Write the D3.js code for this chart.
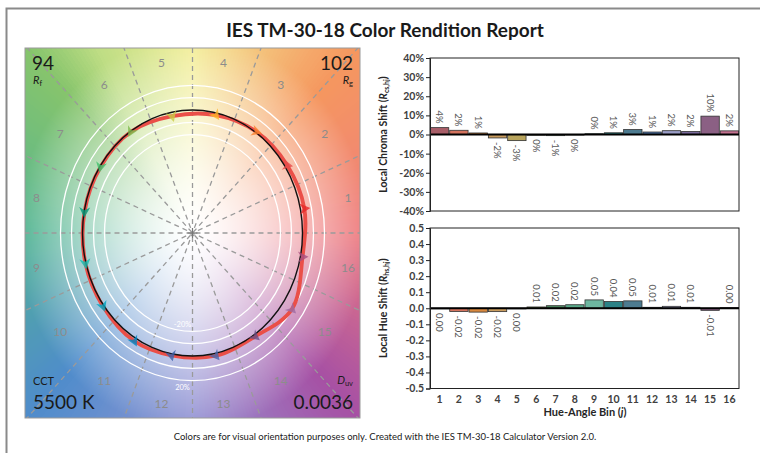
<!DOCTYPE html>
<html>
<head>
<meta charset="utf-8">
<script src="https://cdn.jsdelivr.net/npm/d3@7"></script>
<style>
  body { margin: 0; background: #fff; }
  svg { display: block; font-family: Lato, "Open Sans", sans-serif; }
</style>
</head>
<body>
<script>
//#### DATA ####
var bins = [1, 2, 3, 4, 5, 6, 7, 8, 9, 10, 11, 12, 13, 14, 15, 16];
// local chroma shift (%) per hue-angle bin
var chromaShift = [3.6, 2.2, 0.8, -1.8, -3.2, -0.4, -0.6, -0.3, 0.4, 0.9, 2.6, 1.3, 2.0, 1.6, 9.6, 1.9];
// local hue shift per hue-angle bin
var hueShift = [-0.004, -0.020, -0.024, -0.021, -0.004, 0.008, 0.016, 0.022, 0.052, 0.042, 0.046, 0.006, 0.012, 0.006, -0.013, 0.004];

var chromaTicks = [-40, -30, -20, -10, 0, 10, 20, 30, 40];
var hueTicks = [-0.5, -0.4, -0.3, -0.2, -0.1, 0, 0.1, 0.2, 0.3, 0.4, 0.5];
var ringLevels = [0.8, 0.9, 1.1, 1.2];
var spokeAngles = [0, 22.5, 45, 67.5, 90, 112.5, 135, 157.5];

var rfValue = "94", rgValue = "102", cctValue = "5500 K", duvValue = "0.0036";

// arrow colours (bin colours) and the washed-out bar colours
var binColors = ["#e62828", "#e74b4b", "#fb812e", "#ffb529", "#cbca46", "#7eb94c", "#41c06d", "#009c7c",
                 "#16bcb0", "#00a4bf", "#0085c3", "#3b62aa", "#4568ae", "#6a4e85", "#9d69a1", "#a74f81"];
var barColors = ["#a85e68", "#d4735e", "#d9893f", "#c99c5e", "#b8a45c", "#8fa95c", "#4e8a62", "#5aa98a",
                 "#6db7a0", "#2b8286", "#4d7b90", "#4a70a4", "#9a9dc6", "#7a6b9c", "#8b6084", "#c2718f"];
// background hue wheel stops (angle in degrees, colour)
var wheelAngles = [0, 45, 90, 120, 135, 180, 225, 270, 315, 360];
var wheelColors = ["#ee7c80", "#f5975f", "#f3ee98", "#bedd84", "#86c46c", "#52b493", "#4f8ccb", "#9494d4", "#a650a4", "#ee7c80"];

//#### LAYOUT ####
var W = 760, H = 453;
var px0 = 25, py0 = 48, pw = 335, ph = 370;
var cx = px0 + pw / 2, cy = py0 + ph / 2;
var rx = 110, ry = 123;

var svg = d3.select("body").append("svg")
  .attr("width", W)
  .attr("height", H);

// outer frame
svg.append("path")
  .attr("d", "M6.5," + H + " L6.5,8.5 L" + W + ",8.5")
  .attr("fill", "none")
  .attr("stroke", "#8a8a8a")
  .attr("stroke-width", 2);

svg.append("text")
  .attr("x", 385).attr("y", 37)
  .attr("text-anchor", "middle")
  .attr("font-size", 19).attr("font-weight", "bold")
  .attr("fill", "#1a1a1a")
  .text("IES TM-30-18 Color Rendition Report");

//#### COLOR VECTOR GRAPHIC ####
var xN = d3.scaleLinear().domain([-1, 1]).range([cx - rx, cx + rx]);
var yN = d3.scaleLinear().domain([-1, 1]).range([cy + ry, cy - ry]);

var hueScale = d3.scaleLinear().domain(wheelAngles).range(wheelColors).interpolate(d3.interpolateRgb);
var hueLut = d3.range(361).map(function(a) { return d3.rgb(hueScale(a)); });

var canvas = document.createElement("canvas");
canvas.width = pw; canvas.height = ph;
var ctx = canvas.getContext("2d");
var img = ctx.createImageData(pw, ph);
for (var py = 0; py < ph; py++) {
  for (var px = 0; px < pw; px++) {
    var nx = xN.invert(px0 + px + 0.5), ny = yN.invert(py0 + py + 0.5);
    var ang = (Math.atan2(ny, nx) * 180 / Math.PI + 360) % 360;
    var r = Math.sqrt(nx * nx + ny * ny);
    var t = Math.pow(Math.min(1, r / 1.6), 1.45);
    var c = hueLut[Math.round(ang)];
    var k = (py * pw + px) * 4;
    img.data[k] = 255 + (c.r - 255) * t;
    img.data[k + 1] = 255 + (c.g - 255) * t;
    img.data[k + 2] = 255 + (c.b - 255) * t;
    img.data[k + 3] = 255;
  }
}
ctx.putImageData(img, 0, 0);

svg.append("clipPath").attr("id", "panelClip")
  .append("rect").attr("x", px0).attr("y", py0).attr("width", pw).attr("height", ph);

svg.append("image")
  .attr("x", px0).attr("y", py0)
  .attr("width", pw).attr("height", ph)
  .attr("href", canvas.toDataURL());

var panel = svg.append("g").attr("clip-path", "url(#panelClip)");

// dashed spokes
panel.selectAll(".spoke")
  .data(spokeAngles)
  .enter().append("line")
  .attr("class", "spoke")
  .attr("x1", function(d) { return xN(-3 * Math.cos(d * Math.PI / 180)); })
  .attr("y1", function(d) { return yN(-3 * Math.sin(d * Math.PI / 180)); })
  .attr("x2", function(d) { return xN(3 * Math.cos(d * Math.PI / 180)); })
  .attr("y2", function(d) { return yN(3 * Math.sin(d * Math.PI / 180)); })
  .attr("stroke", "#9a9a9a")
  .attr("stroke-width", 1.3)
  .attr("stroke-dasharray", "5,4");

// centre cross
panel.append("path")
  .attr("d", "M" + (cx - 5) + "," + cy + "H" + (cx + 5) + "M" + cx + "," + (cy - 5) + "V" + (cy + 5))
  .attr("stroke", "#777").attr("stroke-width", 1);

// white rings
panel.selectAll(".ring")
  .data(ringLevels)
  .enter().append("ellipse")
  .attr("class", "ring")
  .attr("cx", cx).attr("cy", cy)
  .attr("rx", function(d) { return xN(d) - cx; })
  .attr("ry", function(d) { return cy - yN(d); })
  .attr("fill", "none")
  .attr("stroke", "#fff")
  .attr("stroke-width", 1.3);

panel.append("text")
  .attr("x", cx - 10).attr("y", yN(-0.8) - 4)
  .attr("text-anchor", "middle").attr("font-size", 7.5).attr("fill", "#fff")
  .text("-20%");
panel.append("text")
  .attr("x", cx - 10).attr("y", yN(-1.2) + 9)
  .attr("text-anchor", "middle").attr("font-size", 7.5).attr("fill", "#fff")
  .text("20%");

// hue bin numbers
panel.selectAll(".binLabel")
  .data(bins)
  .enter().append("text")
  .attr("class", "binLabel")
  .attr("x", function(d) {
    var a = (d - 0.5) * 22.5 * Math.PI / 180;
    return Math.max(px0 + 9, Math.min(px0 + pw - 12, cx + 159 * Math.cos(a)));
  })
  .attr("y", function(d) {
    var a = (d - 0.5) * 22.5 * Math.PI / 180;
    return Math.max(py0 + 15, Math.min(py0 + ph - 14, cy - 178 * Math.sin(a))) + 4;
  })
  .attr("text-anchor", "middle")
  .attr("font-size", 12)
  .attr("fill", "#8c8c8c")
  .text(function(d) { return d; });

// reference and test vertices
var vectors = bins.map(function(b, i) {
  var a = (b - 0.5) * 22.5 * Math.PI / 180;
  var at = a + hueShift[i];
  var rt = 1 + chromaShift[i] / 100;
  return {
    bin: b,
    rx: Math.cos(a), ry: Math.sin(a),
    tx: rt * Math.cos(at), ty: rt * Math.sin(at)
  };
});

var testLine = d3.line()
  .x(function(d) { return xN(d.tx); })
  .y(function(d) { return yN(d.ty); })
  .curve(d3.curveCatmullRomClosed.alpha(0.5));

panel.append("path")
  .datum(vectors)
  .attr("d", testLine)
  .attr("fill", "none")
  .attr("stroke", "#ea4f48")
  .attr("stroke-width", 3.8)
  .attr("stroke-linejoin", "round");

panel.append("ellipse")
  .attr("cx", cx).attr("cy", cy)
  .attr("rx", xN(1) - cx).attr("ry", cy - yN(1))
  .attr("fill", "none")
  .attr("stroke", "#111")
  .attr("stroke-width", 1.4);

// arrow heads at the test vertices
panel.selectAll(".arrow")
  .data(vectors)
  .enter().append("path")
  .attr("class", "arrow")
  .attr("d", "M6,0 L-4.5,-5.5 L-1.5,0 L-4.5,5.5 Z")
  .attr("transform", function(d) {
    var dx = xN(d.tx) - xN(d.rx), dy = yN(d.ty) - yN(d.ry);
    var rot = Math.atan2(dy, dx) * 180 / Math.PI;
    return "translate(" + xN(d.tx) + "," + yN(d.ty) + ") rotate(" + rot + ")";
  })
  .attr("fill", function(d, i) { return binColors[i]; })
  .attr("opacity", 0.8);

svg.append("rect")
  .attr("x", px0).attr("y", py0).attr("width", pw).attr("height", ph)
  .attr("fill", "none").attr("stroke", "#9a9a9a").attr("stroke-width", 1);

// corner metrics
var big = 19, small = 11;
function cornerLabel(x, anchor, y, label, sub, italic) {
  var t = svg.append("text")
    .attr("x", x).attr("y", y)
    .attr("text-anchor", anchor)
    .attr("font-size", small)
    .attr("fill", "#1a1a1a");
  t.append("tspan").attr("font-style", italic ? "italic" : "normal").text(label);
  if (sub) t.append("tspan").attr("font-size", 7.5).attr("dy", 2).text(sub);
}
function cornerValue(x, anchor, y, value) {
  svg.append("text")
    .attr("x", x).attr("y", y)
    .attr("text-anchor", anchor)
    .attr("font-size", big)
    .attr("fill", "#1a1a1a")
    .text(value);
}
cornerValue(32, "start", 70, rfValue);
cornerLabel(33, "start", 84, "R", "f", true);
cornerValue(353, "end", 70, rgValue);
cornerLabel(353, "end", 84, "R", "g", true);
cornerLabel(33, "start", 385, "CCT", null, false);
cornerValue(33, "start", 409, cctValue);
cornerLabel(353, "end", 384, "D", "uv", true);
cornerValue(353, "end", 409, duvValue);

//#### BAR CHARTS ####
var plotX0 = 430, plotX1 = 739;
var xB = d3.scaleBand().domain(bins).range([plotX0, plotX1]).paddingInner(0.05).paddingOuter(0.02);
var yC = d3.scaleLinear().domain([-40, 40]).range([211, 58]);
var yH = d3.scaleLinear().domain([-0.5, 0.5]).range([388.5, 228]);

function hyphen(s) { return s.replace("\u2212", "-"); }

function barChart(values, y, ticks, tickFmt, labelFmt) {
  var g = svg.append("g");
  var y0 = y.range()[1], y1 = y.range()[0];

  g.selectAll(".bar")
    .data(values)
    .enter().append("rect")
    .attr("class", "bar")
    .attr("x", function(d, i) { return xB(bins[i]); })
    .attr("width", xB.bandwidth())
    .attr("y", function(d) { return y(Math.max(0, d)); })
    .attr("height", function(d) { return Math.abs(y(d) - y(0)); })
    .attr("fill", function(d, i) { return barColors[i]; })
    .attr("stroke", "#333")
    .attr("stroke-width", 0.8);

  g.selectAll(".vlabel")
    .data(values)
    .enter().append("text")
    .attr("class", "vlabel")
    .attr("transform", function(d, i) {
      var xx = xB(bins[i]) + xB.bandwidth() / 2 - 3.5;
      var yy = d >= 0 ? y(d) - 4 : y(d) + 4;
      return "translate(" + xx + "," + yy + ") rotate(90)";
    })
    .attr("text-anchor", function(d) { return d >= 0 ? "end" : "start"; })
    .attr("font-size", 9.5)
    .attr("fill", "#595959")
    .text(labelFmt);

  g.append("rect")
    .attr("x", plotX0).attr("y", y0)
    .attr("width", plotX1 - plotX0).attr("height", y1 - y0)
    .attr("fill", "none").attr("stroke", "#222").attr("stroke-width", 1);

  g.append("line")
    .attr("x1", plotX0).attr("x2", plotX1)
    .attr("y1", y(0)).attr("y2", y(0))
    .attr("stroke", "#000").attr("stroke-width", 2);

  var ax = g.append("g")
    .attr("transform", "translate(" + plotX0 + ",0)")
    .call(d3.axisLeft(y).tickValues(ticks).tickSize(4).tickPadding(2).tickFormat(tickFmt));
  ax.select(".domain").attr("stroke", "#222");
  ax.selectAll(".tick line").attr("stroke", "#222");
  ax.selectAll("text")
    .attr("font-family", "Lato, sans-serif")
    .attr("font-size", 10.5)
    .attr("font-weight", "bold")
    .attr("fill", "#404040");
  return g;
}

barChart(chromaShift, yC, chromaTicks,
  function(d) { return (d < 0 ? "-" : "") + Math.abs(d) + "%"; },
  function(d) { var r = Math.round(d); return (r === 0 ? 0 : r) + "%"; });

barChart(hueShift, yH, hueTicks,
  function(d) { return hyphen(d.toFixed(1)); },
  function(d) { return Math.abs(d) < 0.005 ? "0.00" : d.toFixed(2); });

// x tick labels
svg.selectAll(".xlab")
  .data(bins)
  .enter().append("text")
  .attr("class", "xlab")
  .attr("x", function(d) { return xB(d) + xB.bandwidth() / 2; })
  .attr("y", 403)
  .attr("text-anchor", "middle")
  .attr("font-size", 10.5)
  .attr("font-weight", "bold")
  .attr("fill", "#404040")
  .text(function(d) { return d; });

var xt = svg.append("text")
  .attr("x", 585).attr("y", 416)
  .attr("text-anchor", "middle")
  .attr("font-size", 11).attr("font-weight", "bold").attr("fill", "#262626");
xt.append("tspan").text("Hue-Angle Bin (");
xt.append("tspan").attr("font-style", "italic").text("j");
xt.append("tspan").text(")");

function yTitle(yc, main, sub) {
  var t = svg.append("text")
    .attr("transform", "translate(387," + yc + ") rotate(-90)")
    .attr("text-anchor", "middle")
    .attr("font-size", 10.5).attr("font-weight", "bold").attr("fill", "#262626");
  t.append("tspan").text(main + " (");
  t.append("tspan").attr("font-style", "italic").text("R");
  t.append("tspan").attr("font-size", 7).attr("dy", 2).text(sub);
  t.append("tspan").attr("dy", -2).text(")");
}
yTitle(yC(0), "Local Chroma Shift", "cs,hj");
yTitle(yH(0), "Local Hue Shift", "hs,hj");

svg.append("text")
  .attr("x", 385).attr("y", 440)
  .attr("text-anchor", "middle")
  .attr("font-size", 9.5)
  .attr("fill", "#1a1a1a")
  .text("Colors are for visual orientation  purposes only. Created  with the IES  TM-30-18 Calculator Version 2.0.");
</script>
</body>
</html>
